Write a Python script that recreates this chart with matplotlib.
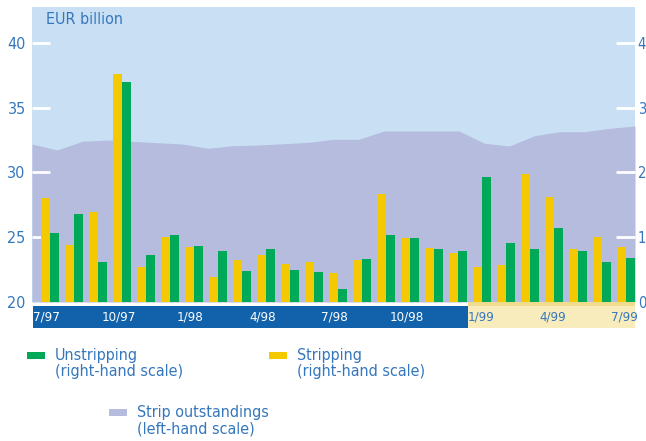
"""
Stripping / unstripping activity with strip outstandings (EUR billion)
"""

import numpy as np
import matplotlib
matplotlib.use("Agg")
import matplotlib.pyplot as plt
from matplotlib.patches import Rectangle
import matplotlib.transforms as mtransforms

plt.rcParams['font.family'] = ['DejaVu Sans']
plt.rcParams['font.stretch'] = 'condensed'

# monthly data, 7/97 .. 7/99
months = ["7/97", "8/97", "9/97", "10/97", "11/97", "12/97", "1/98", "2/98", "3/98",
          "4/98", "5/98", "6/98", "7/98", "8/98", "9/98", "10/98", "11/98", "12/98",
          "1/99", "2/99", "3/99", "4/99", "5/99", "6/99", "7/99"]
stripping = [1.61, 0.88, 1.39, 3.52, 0.54, 1.00, 0.85, 0.39, 0.65, 0.72, 0.59, 0.62,
             0.44, 0.65, 1.67, 0.99, 0.84, 0.76, 0.54, 0.57, 1.98, 1.62, 0.82, 1.00, 0.85]
unstripping = [1.07, 1.36, 0.62, 3.40, 0.73, 1.03, 0.86, 0.79, 0.48, 0.82, 0.49, 0.46,
               0.20, 0.66, 1.03, 0.99, 0.82, 0.79, 1.93, 0.91, 0.82, 1.14, 0.79, 0.62, 0.68]
# strip outstandings (left-hand scale)
outstanding = [32.19, 31.73, 32.40, 32.50, 32.40, 32.29, 32.19, 31.86, 32.06, 32.11,
               32.21, 32.32, 32.55, 32.55, 33.19, 33.19, 33.19, 33.19, 32.25, 32.04,
               32.83, 33.14, 33.14, 33.40, 33.58]
tick_labels = ["7/97", "10/97", "1/98", "4/98", "7/98", "10/98", "1/99", "4/99", "7/99"]

BLUE_TXT = '#3577bd'
BG = '#c9e0f4'
AREA = '#b6bcde'
YELLOW = '#f5c900'
GREEN = '#00a957'
BAND_BLUE = '#1162aa'
BAND_YEL = '#f8ecbd'

fig = plt.figure(figsize=(6.46, 4.41), dpi=100)
ax = fig.add_axes([32 / 646, 1 - 302 / 441, 603 / 646, 295 / 441])
ax.set_facecolor(BG)
x0, x1 = -0.75, 24.375
ax.set_xlim(x0, x1)
ax.set_ylim(20, 42.76)

# outstandings area spans the full panel width
xa = np.linspace(x0, x1, len(outstanding))
ax.fill_between(xa, outstanding, 20, color=AREA, lw=0, zorder=1)

ax2 = ax.twinx()
ax2.set_ylim(0, 4.552)
x = np.arange(len(months))
w = 0.355
ax2.bar(x - w / 2, stripping, width=w, color=YELLOW, lw=0)
ax2.bar(x + w / 2, unstripping, width=w, color=GREEN, lw=0)

for a in (ax, ax2):
    for s in a.spines.values():
        s.set_visible(False)
    a.set_xticks([])

ax.set_yticks([20, 25, 30, 35, 40])
ax.tick_params(axis='y', direction='in', length=13, width=2, color='white',
               labelcolor=BLUE_TXT, labelsize=11.5, pad=4.5)
ax2.set_yticks([0, 1, 2, 3, 4])
ax2.tick_params(axis='y', direction='in', length=14, width=2, color='white',
                labelcolor=BLUE_TXT, labelsize=10.5, pad=2)
# hide the white tick at the bottom edge (sits on the axis line)
ax.yaxis.get_major_ticks()[0].tick1line.set_visible(False)
ax2.yaxis.get_major_ticks()[0].tick2line.set_visible(False)

ax.text(0.023, 0.959, "EUR billion", transform=ax.transAxes, ha='left', va='center',
        fontsize=11.5, color=BLUE_TXT)

# date band under the chart
trans = mtransforms.blended_transform_factory(ax.transData, ax.transAxes)
split = 17.42
ax.add_patch(Rectangle((x0 + 0.04, -0.089), split - x0 - 0.04, 0.0755, transform=trans,
                       color=BAND_BLUE, lw=0, clip_on=False))
ax.add_patch(Rectangle((split, -0.089), x1 - split, 0.089, transform=trans,
                       color=BAND_YEL, lw=0, clip_on=False))
ax.add_patch(Rectangle((split, -0.0135), x1 - split, 0.0135, transform=trans,
                       color='#efdc8e', lw=0, clip_on=False))
for i, lab in enumerate(tick_labels):
    pos = i * 3
    if pos < split:
        col, off = 'white', -0.15
    else:
        col, off = BLUE_TXT, -0.05
    ax.text(pos + off, -0.051, lab, transform=trans, ha='center', va='center',
            fontsize=9.5, color=col)

# legend
legend_items = [
    (27, 352, GREEN, "Unstripping\n(right-hand scale)", 55),
    (269, 352, YELLOW, "Stripping\n(right-hand scale)", 297),
    (109, 409, AREA, "Strip outstandings\n(left-hand scale)", 137),
]
for px, py, col, txt, tx in legend_items:
    fig.patches.append(Rectangle((px / 646, 1 - (py + 7) / 441), 18 / 646, 7 / 441,
                                 transform=fig.transFigure, color=col, lw=0))
    fig.text(tx / 646, 1 - (py - 4) / 441, txt, ha='left', va='top', fontsize=11.5,
             color=BLUE_TXT, linespacing=1.1)

fig.savefig("out.png", dpi=100)
